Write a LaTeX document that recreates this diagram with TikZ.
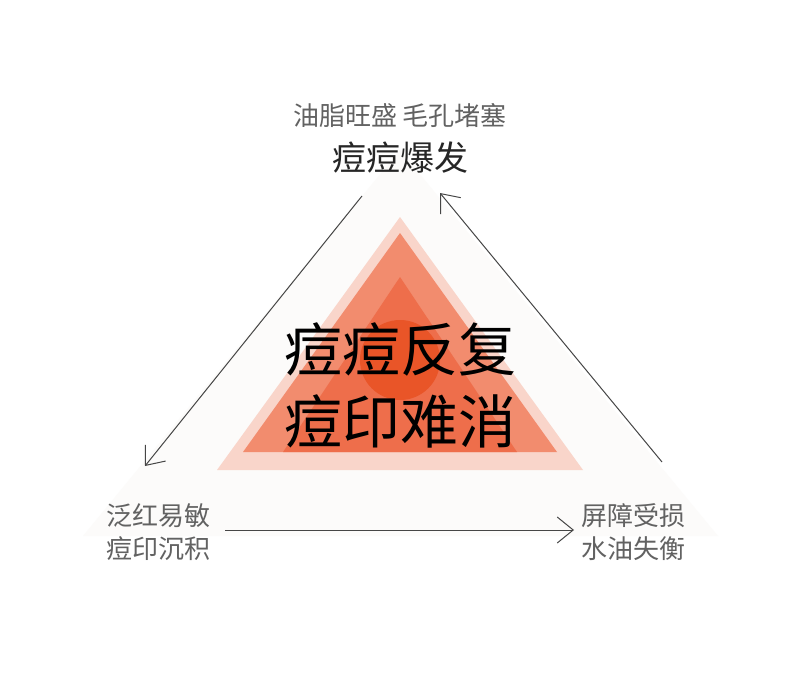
\documentclass[tikz,border=0pt]{standalone}
\usepackage{fontspec}
\usetikzlibrary{arrows.meta}
\newfontfamily\cjk{Noto Sans CJK SC}

\definecolor{faint}{RGB}{252,251,250}
\definecolor{pale}{RGB}{249,213,202}
\definecolor{salmon}{RGB}{242,140,110}
\definecolor{coral}{RGB}{238,110,75}
\definecolor{drop}{RGB}{233,85,40}
\definecolor{ink}{RGB}{70,70,70}

\tikzset{
  flow/.style={draw=ink, line width=1pt, -{Straight Barb[length=16pt,width=26pt]}},
  smalltext/.style={font=\cjk\fontsize{26}{33}\selectfont, text=ink!85, align=center},
}

\begin{document}
\begin{tikzpicture}[x=1pt,y=-1pt]
        \useasboundingbox[fill=white] (0,0) rectangle (800,682);

        % Faint back triangle
        \fill[faint] (83,536) -- (400,150) -- (718,536) -- cycle;

        % Layered centre triangles
        \fill[pale] (217,470) -- (400,217) -- (583,470) -- cycle;
        \fill[salmon] (243,452) -- (400,233) -- (557,452) -- cycle;
        \fill[coral] (283,452) -- (400,277) -- (517,452) -- cycle;
        \fill[drop] (400,360) circle (40);

        % Centre text
        \node (core) at (400,385) [font=\cjk\fontsize{58}{72}\selectfont, align=center]
              {痘痘反复\\痘印难消};

        % Corner labels
        \node (cause) at (400,116) [smalltext] {油脂旺盛 毛孔堵塞};
        \node (burst) at (400,158) [font=\cjk\fontsize{34}{34}\selectfont, text=black!85] {痘痘爆发};
        \node (mark) at (158,532) [smalltext] {泛红易敏\\痘印沉积};
        \node (barrier) at (633,532) [smalltext] {屏障受损\\水油失衡};

        % Cycle arrows
        \coordinate (topl) at (362,196);
        \coordinate (botl) at (145,466);
        \coordinate (topr) at (440,193);
        \coordinate (botr) at (662,462);
        \coordinate (bl) at (225,530);
        \coordinate (br) at (574,530);
        \draw[flow] (topl) -- (botl);
        \draw[flow] (bl) -- (br);
        \draw[flow] (botr) -- (topr);
    \end{tikzpicture}
\end{document}
